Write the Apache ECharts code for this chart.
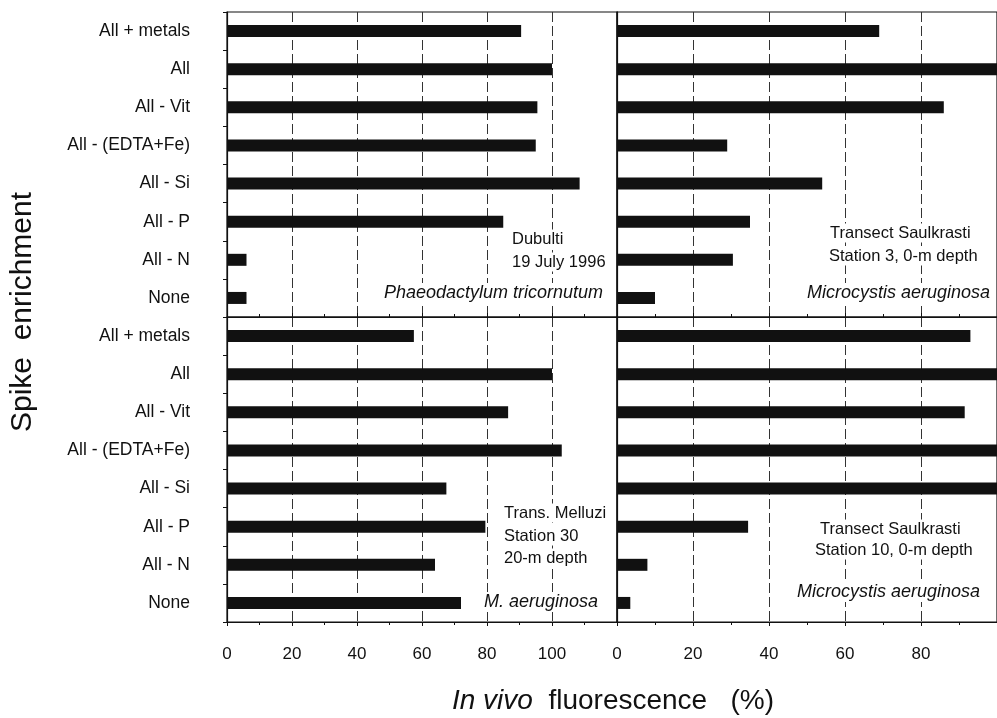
<!DOCTYPE html>
<html>
<head>
<meta charset="utf-8">
<script src="https://cdn.jsdelivr.net/npm/echarts@6/dist/echarts.min.js"></script>
<style>
    html, body { margin: 0; padding: 0; background: #fff; }
    #chart { width: 997px; height: 718px; }
</style>
</head>
<body>
<div id="chart"></div>
<script>
    // enrichment treatments, top to bottom
    var categories = ['All + metals', 'All', 'All - Vit', 'All - (EDTA+Fe)', 'All - Si', 'All - P', 'All - N', 'None'];

    // in vivo fluorescence (%) per panel
    var dubulti = [90.5, 100, 95.5, 95, 108.5, 85, 6, 6];          // top left
    var saulkrasti3 = [69, 100, 86, 29, 54, 35, 30.5, 10];        // top right
    var melluzi30 = [57.5, 100, 86.5, 103, 67.5, 79.5, 64, 72];   // bottom left
    var saulkrasti10 = [93, 100, 91.5, 100, 100, 34.5, 8, 3.5];    // bottom right

    var leftMax = 120;
    var rightMax = 100;
    var tickStep = 20;

    var FONT = '"Liberation Sans", Arial, sans-serif';
    var INK = '#111';

    var chart = echarts.init(document.getElementById('chart'));

    function xAxis(gridIndex, max, showLabel) {
        return {
            type: 'value', gridIndex: gridIndex, min: 0, max: max, interval: tickStep,
            axisLine: {show: true, lineStyle: {color: INK, width: 1.2}},
            axisTick: {show: true, inside: !showLabel, length: 4, lineStyle: {color: INK}},
            minorTick: {show: true, splitNumber: 2, length: 3, lineStyle: {color: INK}},
            axisLabel: {
                show: showLabel, showMaxLabel: false, margin: 24,
                color: INK, fontSize: 17, fontFamily: FONT
            },
            splitLine: {show: true, lineStyle: {color: '#333', width: 1, type: [10, 4]}}
        };
    }

    function yAxis(gridIndex, showLabel) {
        return {
            type: 'category', gridIndex: gridIndex, data: categories, inverse: true,
            axisLine: {show: true, lineStyle: {color: INK, width: 1.2}},
            axisTick: {show: showLabel, length: 4, lineStyle: {color: INK}},
            axisLabel: {
                show: showLabel, margin: 37, color: INK, fontSize: 17.5, fontFamily: FONT
            },
            splitLine: {show: false}
        };
    }

    function bars(idx, data) {
        return {
            type: 'bar', xAxisIndex: idx, yAxisIndex: idx, data: data,
            barWidth: 12, itemStyle: {color: INK}, clip: true, silent: true
        };
    }

    // text notes inside panels, white box hides the grid lines behind
    function note(text, x, y, align, italic) {
        var size = italic ? 18 : 16.5;
        return {
            type: 'text', x: x, y: y, z: 100,
            style: {
                text: text, fill: INK, align: align, verticalAlign: 'middle',
                fontSize: size, fontFamily: FONT, fontStyle: italic ? 'italic' : 'normal',
                backgroundColor: '#fff', padding: [1, 1]
            }
        };
    }

    var gridBase = {show: true, borderColor: INK, borderWidth: 1.2, backgroundColor: 'transparent'};

    var option = {
        backgroundColor: '#fff',
        animation: false,
        grid: [
            echarts.util.extend({left: 227, top: 12, width: 390, height: 305}, gridBase),
            echarts.util.extend({left: 617, top: 12, right: -5, height: 305}, gridBase),
            echarts.util.extend({left: 227, top: 317, width: 390, height: 305}, gridBase),
            echarts.util.extend({left: 617, top: 317, right: -5, height: 305}, gridBase)
        ],
        xAxis: [
            xAxis(0, leftMax, false),
            xAxis(1, rightMax, false),
            xAxis(2, leftMax, true),
            xAxis(3, rightMax, true)
        ],
        yAxis: [yAxis(0, true), yAxis(1, false), yAxis(2, true), yAxis(3, false)],
        series: [
            bars(0, dubulti),
            bars(1, saulkrasti3),
            bars(2, melluzi30),
            bars(3, saulkrasti10)
        ],
        graphic: [
            // axis titles
            {
                type: 'text', x: 23, y: 312, rotation: Math.PI / 2,
                style: {
                    text: 'Spike  enrichment', fill: INK, align: 'center', verticalAlign: 'middle',
                    fontSize: 30, fontFamily: FONT
                }
            },
            {
                type: 'text', x: 613, y: 701,
                style: {
                    text: '{it|In vivo}  fluorescence   (%)', fill: INK, align: 'center', verticalAlign: 'middle',
                    fontSize: 28, fontFamily: FONT,
                    rich: {it: {fontStyle: 'italic', fontSize: 28, fontFamily: FONT, fill: INK}}
                }
            },
            // panel notes
            note('Dubulti', 511, 239, 'left'),
            note('19 July 1996', 511, 262, 'left'),
            note('Phaeodactylum tricornutum', 604, 293, 'right', true),
            note('Transect Saulkrasti', 829, 233, 'left'),
            note('Station 3, 0-m depth', 828, 256, 'left'),
            note('Microcystis aeruginosa', 991, 293, 'right', true),
            note('Trans. Melluzi', 503, 513, 'left'),
            note('Station 30', 503, 536, 'left'),
            note('20-m depth', 503, 558, 'left'),
            note('M. aeruginosa', 599, 602, 'right', true),
            note('Transect Saulkrasti', 819, 529, 'left'),
            note('Station 10, 0-m depth', 814, 550, 'left'),
            note('Microcystis aeruginosa', 981, 592, 'right', true)
        ]
    };

    chart.setOption(option);
</script>
</body>
</html>
